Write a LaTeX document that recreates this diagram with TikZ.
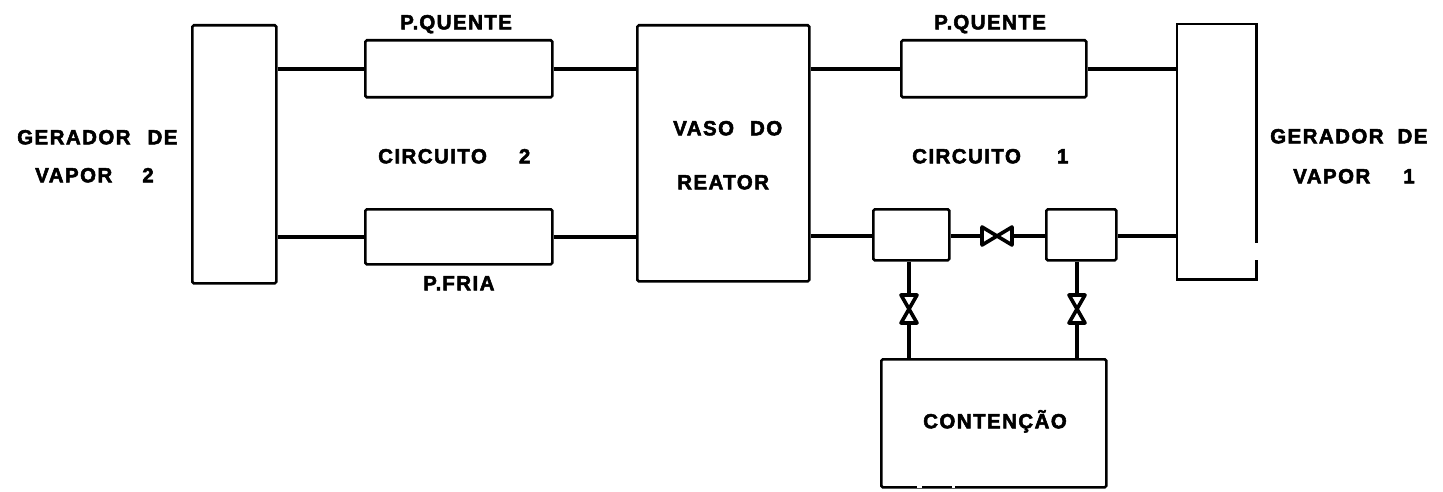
\documentclass[tikz,border=0pt]{standalone}
\usepackage{fontspec}
\setmainfont{Liberation Sans}
\newfontfamily\lblfont[FakeBold=2.5,LetterSpace=7]{Liberation Sans Bold}
\tikzset{
  x=1pt,y=-1pt,
  blk/.style={draw,line width=2.6pt,inner sep=0pt,rounded corners=1.5pt,minimum width=#1},
  pipe/.style={line width=3.8pt},
  valve/.style={draw,fill=white,line width=3.6pt,line join=round},
  lbl/.style={font=\lblfont\fontsize{20.5}{24}\selectfont,inner sep=0pt,anchor=west,text height=14.6pt,text depth=0pt},
}
\begin{document}
\begin{tikzpicture}
\useasboundingbox (0,0) rectangle (1443,492);
% blocks
\node[blk=84pt,minimum height=258pt,anchor=north west] (gv2) at (191,24) {};
\node[blk=187pt,minimum height=57pt,anchor=north west] (pq2) at (364,39) {};
\node[blk=187pt,minimum height=55pt,anchor=north west] (pf2) at (364,208) {};
\node[blk=172pt,minimum height=256pt,anchor=north west] (vaso) at (636,24) {};
\node[blk=185pt,minimum height=57pt,anchor=north west] (pq1) at (900,39) {};
\node[minimum width=79pt,minimum height=255pt,inner sep=0pt,anchor=north west] (gv1) at (1177,24) {};
\draw[line width=2.6pt] (gv1.north east) ++(0,236) -- (gv1.south east) -- (gv1.south west) -- (gv1.north west) -- (gv1.north east) -- ++(0,219);
\node[blk=76pt,minimum height=51pt,anchor=north west] (a) at (872,208) {};
\node[blk=70pt,minimum height=51pt,anchor=north west] (b) at (1045,208) {};
\node[blk=225pt,minimum height=128pt,anchor=north west] (cont) at (880,358) {};
% scan breaks in the lower edge
\draw[white,line width=4pt] (917,486) -- (922,486) (952,486) -- (955,486);
% valve coordinates
\coordinate (vh) at (997,236);
\coordinate (vl) at (909,309);
\coordinate (vr) at (1077,309);
% pipes
\draw[pipe] (gv2.east |- pq2.west) -- (pq2.west);
\draw[pipe] (pq2.east) -- (vaso.west |- pq2.east);
\draw[pipe] (gv2.east |- pf2.west) -- (pf2.west);
\draw[pipe] (pf2.east) -- (vaso.west |- pf2.east);
\draw[pipe] (vaso.east |- pq1.west) -- (pq1.west);
\draw[pipe] (pq1.east) -- (gv1.west |- pq1.east);
\draw[pipe] (vaso.east |- vh) -- (a.west |- vh);
\draw[pipe] (a.east |- vh) -- (vh);
\draw[pipe] (vh) -- (b.west |- vh);
\draw[pipe] (b.east |- vh) -- (gv1.west |- vh);
\draw[pipe] (vl |- a.south) -- (vl |- cont.north);
\draw[pipe] (vr |- b.south) -- (vr |- cont.north);
% valves
\foreach \v in {vh}{
 \draw[valve] (\v) -- ++(-15,-9) -- ++(0,18) -- cycle;
 \draw[valve] (\v) -- ++(15,-9) -- ++(0,18) -- cycle;}
\foreach \v in {vl,vr}{
 \draw[valve] (\v) -- ++(-8,-14) -- ++(16,0) -- cycle;
 \draw[valve] (\v) -- ++(-8,14) -- ++(16,0) -- cycle;}
% labels
\node[lbl] (t1) at (400,22) {P.\hspace{1pt}QUENTE};
\node[lbl] (t2) at (934,22) {P.\hspace{1pt}QUENTE};
\node[lbl] (t3) at (423,283) {P.\hspace{1pt}FRIA};
\node[lbl] (t4) at (17,137) {GERADOR\hspace{17pt}DE};
\node[lbl] (t5) at (35,175) {VAPOR\hspace{30pt}2};
\node[lbl] (t6) at (378,156) {CIRCUITO\hspace{32pt}2};
\node[lbl] (t7) at (673,128) {VASO\hspace{16pt}DO};
\node[lbl] (t8) at (677,182) {REATOR};
\node[lbl] (t9) at (912,156) {CIRCUITO\hspace{36pt}1};
\node[lbl] (t10) at (1270,136) {GERADOR\hspace{14pt}DE};
\node[lbl] (t11) at (1293,176) {VAPOR\hspace{33pt}1};
\node[lbl] (t12) at (923,421) {CONTENÇÃO};
\end{tikzpicture}
\end{document}
